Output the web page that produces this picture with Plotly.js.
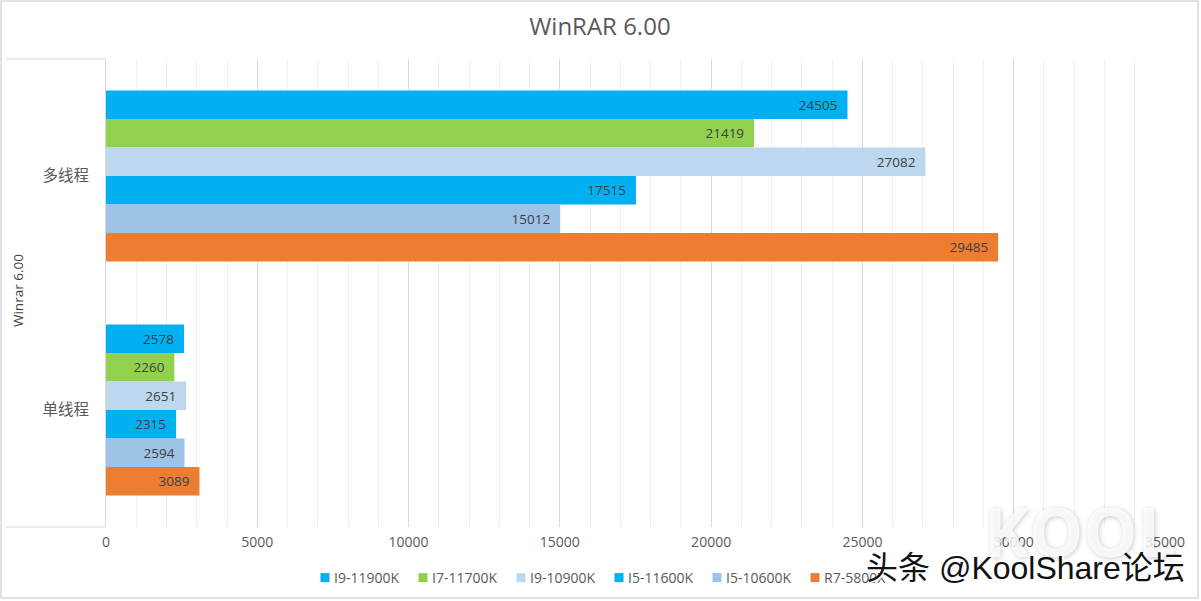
<!DOCTYPE html>
<html><head><meta charset="utf-8">
<script src="https://cdn.plot.ly/plotly-3.0.1.min.js"></script>
<style>html,body{margin:0;padding:0;background:#fff}</style>
</head><body><div id="chart" style="width:1201px;height:601px"></div>
<script>
const categories = ['多线程','单线程'];
const seriesNames = ['I9-11900K','I7-11700K','I9-10900K','I5-11600K','I5-10600K','R7-5800X'];
const seriesColors = ['#00B0F0','#92D050','#BDD7EE','#00B0F0','#9DC3E6','#ED7D31'];
const i9_11900k = [24505,2578];
const i7_11700k = [21419,2260];
const i9_10900k = [27082,2651];
const i5_11600k = [17515,2315];
const i5_10600k = [15012,2594];
const r7_5800x = [29485,3089];
const seriesValues = [i9_11900k,i7_11700k,i9_10900k,i5_11600k,i5_10600k,r7_5800x];
const font = '"Open Sans","Noto Sans CJK SC",sans-serif';
const traces = seriesNames.map((n,i)=>({
  type:'bar',orientation:'h',name:n,y:categories,x:seriesValues[i],
  marker:{color:seriesColors[i]},
  text:seriesValues[i].map(v=>v+'\u00a0\u00a0'),textposition:'inside',insidetextanchor:'end',textangle:0,
  constraintext:'none',cliponaxis:false,
  textfont:{family:font,size:13.5,color:'#404040'},hoverinfo:'x+name'
}));
const line='#D9D9D9';
const px=v=>(v-106)/1059, py=v=>(527-v)/468;
const layout={
  width:1201,height:601,paper_bgcolor:'#fff',plot_bgcolor:'#fff',
  margin:{l:106,r:36,t:59,b:74},
  barmode:'group',bargap:0.27,bargroupgap:0,
  font:{family:font,color:'#595959',size:14},
  title:{text:'WinRAR 6.00',x:0.4995,xanchor:'center',y:0.956,yanchor:'middle',font:{family:font,size:24,color:'#595959'}},
  xaxis:{range:[0,35000],dtick:5000,tick0:0,tickformat:'d',showgrid:true,gridcolor:'#D9D9D9',gridwidth:1,zeroline:false,
    showline:false,ticks:'',tickfont:{family:font,size:14,color:'#595959'},ticklabelstandoff:5,
    minor:{dtick:1000,tick0:0,showgrid:true,gridcolor:'#F0F0F0',gridwidth:1,ticks:''},automargin:false},
  yaxis:{autorange:'reversed',type:'category',showgrid:false,zeroline:false,showline:true,linecolor:line,linewidth:1,
    ticks:'',tickfont:{family:font,size:15.5,color:'#595959'},ticklabelstandoff:13,automargin:false},
  legend:{orientation:'h',xref:'container',yref:'container',x:305/1201,xanchor:'left',y:1-578/601,yanchor:'middle',traceorder:'normal',
    font:{family:font,size:14,color:'#595959'},entrywidth:53,entrywidthmode:'pixels',itemwidth:30,bgcolor:'rgba(0,0,0,0)'},
  shapes:[
    {type:'line',xref:'paper',yref:'paper',x0:px(6),x1:0,y0:1,y1:1,line:{color:line,width:1}},
    {type:'line',xref:'paper',yref:'paper',x0:px(6),x1:0,y0:0,y1:0,line:{color:line,width:1}},
    {type:'rect',xref:'paper',yref:'paper',x0:px(1),x1:px(1198),y0:py(598),y1:py(1),line:{color:line,width:1.5},fillcolor:'rgba(0,0,0,0)'}
  ],
  annotations:[
    {text:'Winrar 6.00',xref:'paper',yref:'paper',x:px(18),y:py(291),xanchor:'center',yanchor:'middle',textangle:-90,showarrow:false,font:{family:font,size:13.5,color:'#404040'}},
    {text:'<b>KOOL</b>',xref:'paper',yref:'paper',x:px(1080),y:py(530),xanchor:'center',yanchor:'middle',showarrow:false,font:{family:font,size:68,color:'rgba(255,255,255,0.82)',shadow:'1px 1px 5px rgba(0,0,0,0.25)'}},
    {text:'头条 @KoolShare论坛',xref:'paper',yref:'paper',x:px(1025),y:py(568),xanchor:'center',yanchor:'middle',showarrow:false,font:{family:'"Liberation Sans","Noto Sans CJK SC",sans-serif',size:32,color:'#111111',shadow:'2px 1px 0 #fff'}}
  ]
};
Plotly.newPlot('chart',traces,layout,{displayModeBar:false,responsive:false}).then(gd=>{
  gd.querySelectorAll('.legend .traces').forEach(t=>{
    const p=t.querySelector('.legendpoints path');
    if(p){p.setAttribute('d','M4.5,4.5H-4.5V-4.5H4.5Z');}
    const txt=t.querySelector('.legendtext');
    if(txt){txt.setAttribute('x','29');}
  });
});
</script></body></html>
